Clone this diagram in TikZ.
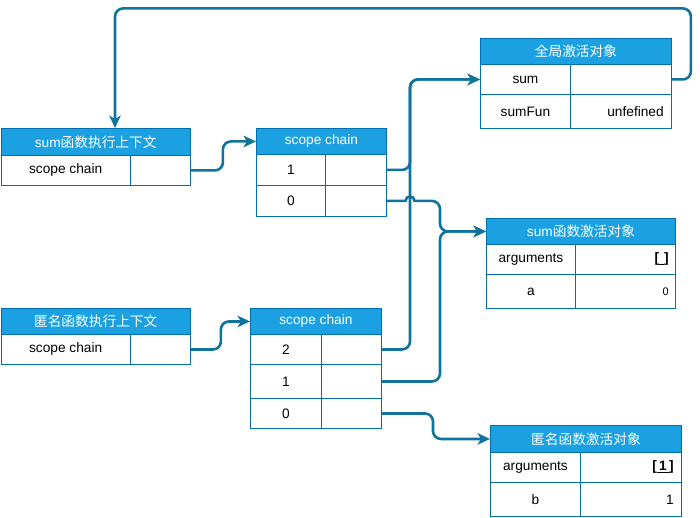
\documentclass[tikz,border=0pt]{standalone}
\usepackage{fontspec}
\setmainfont{Liberation Sans}
\newfontfamily\cjk{Noto Sans CJK SC}
\usetikzlibrary{arrows.meta,calc}
\definecolor{hdrblue}{HTML}{1BA1E2}
\definecolor{bordblue}{HTML}{006EAF}
\definecolor{linkblue}{HTML}{10739E}
\newcommand\mkcell[7]{\node[#1, minimum width=#5pt, minimum height=#6pt] (#2) at (#3,#4) {#7};}
\begin{document}
\begin{tikzpicture}[x=1pt,y=-1pt,
  every node/.style={font=\fontsize{13.7}{16}\selectfont},
  hdrbox/.style={draw=bordblue, fill=hdrblue, text=white, anchor=north west, inner sep=0pt, line width=0.9pt},
  cellbox/.style={draw=bordblue, fill=white, text=black, anchor=north west, inner sep=0pt, line width=0.9pt},
  lbl/.style={anchor=east, inner sep=0pt, text=black},
  conn/.style={draw=linkblue, line width=2.6pt},
  tip/.style={-{Stealth[length=12.5pt,width=11.5pt,inset=3.5pt]}},
]
\useasboundingbox (0,0) rectangle (700,518);

% A: sum execution context
\mkcell{hdrbox}{A-h}{0.5}{128}{189.5}{27}{sum{\cjk 函数执行上下文}}
\mkcell{cellbox}{A-1l}{0.5}{155}{129.5}{30}{scope chain}
\mkcell{cellbox}{A-1r}{130}{155}{60}{30}{}

% B: scope chain (sum)
\mkcell{hdrbox}{B-h}{256}{128}{130}{26}{scope chain}
\mkcell{cellbox}{B-1l}{256}{154}{69}{31}{1}
\mkcell{cellbox}{B-1r}{325}{154}{61}{31}{}
\mkcell{cellbox}{B-0l}{256}{185}{69}{31}{0}
\mkcell{cellbox}{B-0r}{325}{185}{61}{31}{}

% C: global activation object
\mkcell{hdrbox}{C-h}{480}{38}{191}{26}{{\cjk 全局激活对象}}
\mkcell{cellbox}{C-1l}{480}{64}{90}{30}{sum}
\mkcell{cellbox}{C-1r}{570}{64}{101}{30}{}
\mkcell{cellbox}{C-2l}{480}{94}{90}{34}{sumFun}
\mkcell{cellbox}{C-2r}{570}{94}{101}{34}{}
\node[lbl] (C-2v) at ([xshift=-8pt]C-2r.east) {unfefined};

% D: sum activation object
\mkcell{hdrbox}{D-h}{486}{218}{189}{26}{sum{\cjk 函数激活对象}}
\mkcell{cellbox}{D-1l}{486}{244}{89}{30}{arguments}
\mkcell{cellbox}{D-1r}{575}{244}{100}{30}{}
\mkcell{cellbox}{D-2l}{486}{274}{89}{34}{a}
\mkcell{cellbox}{D-2r}{575}{274}{100}{34}{}
\node[lbl] (D-1v) at ([xshift=-7pt]D-1r.east) {\textbf{[\underline{\hspace{5pt}}]}};
\node[lbl] (D-2v) at ([xshift=-7pt]D-2r.east) {\fontsize{11}{13}\selectfont 0};

% E: anonymous execution context
\mkcell{hdrbox}{E-h}{0.5}{308}{189.5}{26}{{\cjk 匿名函数执行上下文}}
\mkcell{cellbox}{E-1l}{0.5}{334}{129.5}{30}{scope chain}
\mkcell{cellbox}{E-1r}{130}{334}{60}{30}{}

% F: scope chain (anonymous)
\mkcell{hdrbox}{F-h}{250}{308}{131}{26}{scope chain}
\mkcell{cellbox}{F-2l}{250}{334}{71}{30}{2}
\mkcell{cellbox}{F-2r}{321}{334}{60}{30}{}
\mkcell{cellbox}{F-1l}{250}{364}{71}{34}{1}
\mkcell{cellbox}{F-1r}{321}{364}{60}{34}{}
\mkcell{cellbox}{F-0l}{250}{398}{71}{30}{0}
\mkcell{cellbox}{F-0r}{321}{398}{60}{30}{}

% G: anonymous activation object
\mkcell{hdrbox}{G-h}{490}{425}{191}{27}{{\cjk 匿名函数激活对象}}
\mkcell{cellbox}{G-1l}{490}{452}{90}{30}{arguments}
\mkcell{cellbox}{G-1r}{580}{452}{101}{30}{}
\mkcell{cellbox}{G-2l}{490}{482}{90}{34}{b}
\mkcell{cellbox}{G-2r}{580}{482}{101}{34}{}
\node[lbl] (G-1v) at ([xshift=-8pt]G-1r.east) {\textbf{[\underline{\,1\,}]}};
\node[lbl] (G-2v) at ([xshift=-8pt]G-2r.east) {1};

% bus coordinates
\coordinate (busA) at (410,0);
\coordinate (busB) at (440,0);
\coordinate (busC) at (433,0);
\coordinate (aIn) at (115,128);

% connectors
\draw[conn,tip,rounded corners=8pt] (C-1r.east) -- ++(19,0) -- ++(0,-71) -| (aIn);
\draw[conn,tip,rounded corners=8pt] (A-1r.east) -- ++(32,0) |- (B-h.west);
\draw[conn,tip,rounded corners=8pt] (E-1r.east) -- ++(30,0) |- (F-h.west);
\draw[conn,tip,rounded corners=8pt] (B-1r.east) -- (B-1r.east -| busA) |- (C-1l.west);
\draw[conn,tip,rounded corners=8pt] (F-2r.east) -- (F-2r.east -| busA) |- (C-1l.west);
\draw[conn,tip] (B-0r.east) -- ($(B-0r.east -| busA)+(-4.5,0)$)
   .. controls +(0,-6) and +(0,-6) .. ($(B-0r.east -| busA)+(4.5,0)$)
   [rounded corners=8pt] -- (B-0r.east -| busB) |- (D-h.west);
\draw[conn,tip,rounded corners=8pt] (F-1r.east) -- (F-1r.east -| busB) |- (D-h.west);
\draw[conn,tip,rounded corners=8pt] (F-0r.east) -- (F-0r.east -| busC) |- (G-h.west);
\end{tikzpicture}
\end{document}
